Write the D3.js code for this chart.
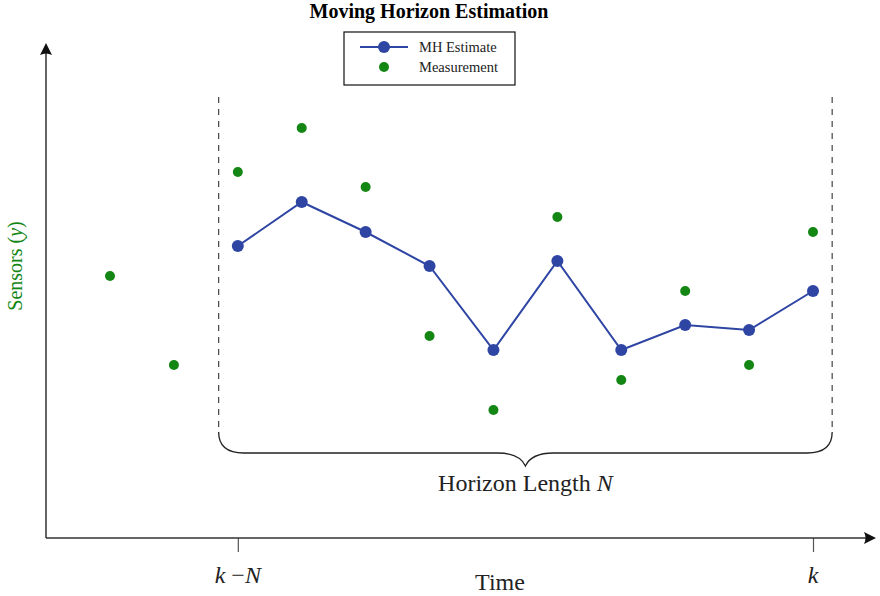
<!DOCTYPE html>
<html>
<head>
<meta charset="utf-8">
<script src="https://cdn.jsdelivr.net/npm/d3@7"></script>
<style>
  body { margin: 0; background: #fff; }
  svg text { font-family: "Liberation Serif", "DejaVu Serif", serif; }
</style>
</head>
<body>
<svg id="chart" width="880" height="596"></svg>
<script>
// time steps and values
var steps = [0, 1, 2, 3, 4, 5, 6, 7, 8, 9, 10, 11];
var measured = [26.3, 17.4, 36.7, 41.1, 35.2, 20.3, 12.9, 32.2, 15.9, 24.8, 17.4, 30.7];
var estSteps = [2, 3, 4, 5, 6, 7, 8, 9, 10, 11];
var estimate = [29.3, 33.7, 30.7, 27.3, 18.9, 27.8, 18.9, 21.4, 20.9, 24.8];
var tickSteps = [2, 11];
var horizon = [1.7, 11.3]; // dashed window edges

var blue = '#2e45a3';
var green = '#138613';

var svg = d3.select('#chart');

var x = d3.scaleLinear().domain([0, 11]).range([110, 813]);
var y = d3.scaleLinear().domain([0, 49.4]).range([539, 45]);

// Title
svg.append('text')
  .attr('x', 429).attr('y', 18)
  .attr('text-anchor', 'middle')
  .attr('font-size', 20).attr('font-weight', 'bold')
  .text('Moving Horizon Estimation');

// Axes
var xAxis = d3.axisBottom(x).tickValues(tickSteps).tickSize(14).tickFormat('');
var gx = svg.append('g').attr('transform', 'translate(0,538)').call(xAxis);
gx.select('.domain').remove();
gx.selectAll('.tick line').attr('stroke', '#555').attr('stroke-width', 1.2);

svg.append('line')
  .attr('x1', 46).attr('y1', 538).attr('x2', 868).attr('y2', 538)
  .attr('stroke', '#333').attr('stroke-width', 1.3);
svg.append('line')
  .attr('x1', 46).attr('y1', 538).attr('x2', 46).attr('y2', 50)
  .attr('stroke', '#111').attr('stroke-width', 1.3);

// arrow heads
svg.append('path')
  .attr('d', 'M876,538 L864,532 Q867,538 864,544 Z')
  .attr('fill', '#111');
svg.append('path')
  .attr('d', 'M46,43 L40,55 Q46,52 52,55 Z')
  .attr('fill', '#111');

// tick labels
var tl = svg.append('text').attr('x', x(2)).attr('y', 583)
  .attr('text-anchor', 'middle').attr('font-size', 24).attr('fill', '#222');
tl.append('tspan').attr('font-style', 'italic').text('k');
tl.append('tspan').text(' \u2212');
tl.append('tspan').attr('font-style', 'italic').text('N');

svg.append('text').attr('x', x(11)).attr('y', 583)
  .attr('text-anchor', 'middle').attr('font-size', 24).attr('font-style', 'italic')
  .attr('fill', '#222').text('k');

svg.append('text').attr('x', 500).attr('y', 590)
  .attr('text-anchor', 'middle').attr('font-size', 24).attr('fill', '#222')
  .text('Time');

// Y label
var yl = svg.append('text')
  .attr('transform', 'translate(22,266) rotate(-90)')
  .attr('text-anchor', 'middle').attr('font-size', 20).attr('fill', green);
yl.append('tspan').text('Sensors (');
yl.append('tspan').attr('font-style', 'italic').text('y');
yl.append('tspan').text(')');

// Horizon window
var xl = x(horizon[0]), xr = x(horizon[1]);
[xl, xr].forEach(function(xx) {
  svg.append('line')
    .attr('x1', xx).attr('y1', 97).attr('x2', xx).attr('y2', 432)
    .attr('stroke', '#444').attr('stroke-width', 1.2)
    .attr('stroke-dasharray', '6,6');
});

var mid = (xl + xr) / 2;
var by = 453;
svg.append('path')
  .attr('d', 'M' + xl + ',432 Q' + xl + ',' + by + ' ' + (xl + 25) + ',' + by +
    ' L' + (mid - 28) + ',' + by +
    ' Q' + (mid - 6) + ',' + by + ' ' + mid + ',' + (by + 13) +
    ' Q' + (mid + 6) + ',' + by + ' ' + (mid + 28) + ',' + by +
    ' L' + (xr - 25) + ',' + by +
    ' Q' + xr + ',' + by + ' ' + xr + ',432')
  .attr('fill', 'none').attr('stroke', '#222').attr('stroke-width', 1.3);

var hl = svg.append('text').attr('x', mid).attr('y', 491)
  .attr('text-anchor', 'middle').attr('font-size', 24).attr('fill', '#222');
hl.append('tspan').text('Horizon Length ');
hl.append('tspan').attr('font-style', 'italic').text('N');

// Measurements
svg.selectAll('.meas').data(steps).enter().append('circle')
  .attr('class', 'meas')
  .attr('cx', function(d) { return x(d); })
  .attr('cy', function(d, i) { return y(measured[i]); })
  .attr('r', 5)
  .attr('fill', green);

// MH estimate
var line = d3.line()
  .x(function(d) { return x(d); })
  .y(function(d, i) { return y(estimate[i]); });
svg.append('path').datum(estSteps)
  .attr('d', line)
  .attr('fill', 'none').attr('stroke', blue).attr('stroke-width', 2);
svg.selectAll('.est').data(estSteps).enter().append('circle')
  .attr('class', 'est')
  .attr('cx', function(d) { return x(d); })
  .attr('cy', function(d, i) { return y(estimate[i]); })
  .attr('r', 6)
  .attr('fill', blue);

// Legend
svg.append('rect')
  .attr('x', 344).attr('y', 32).attr('width', 171).attr('height', 53)
  .attr('fill', '#fff').attr('stroke', '#111').attr('stroke-width', 1.2);
svg.append('line')
  .attr('x1', 360).attr('y1', 47).attr('x2', 408).attr('y2', 47)
  .attr('stroke', blue).attr('stroke-width', 2);
svg.append('circle').attr('cx', 384).attr('cy', 47).attr('r', 6).attr('fill', blue);
svg.append('circle').attr('cx', 384).attr('cy', 67).attr('r', 5).attr('fill', green);
svg.append('text').attr('x', 419).attr('y', 52).attr('font-size', 14.5).attr('fill', '#222')
  .text('MH Estimate');
svg.append('text').attr('x', 419).attr('y', 72).attr('font-size', 14.5).attr('fill', '#222')
  .text('Measurement');
</script>
</body>
</html>
